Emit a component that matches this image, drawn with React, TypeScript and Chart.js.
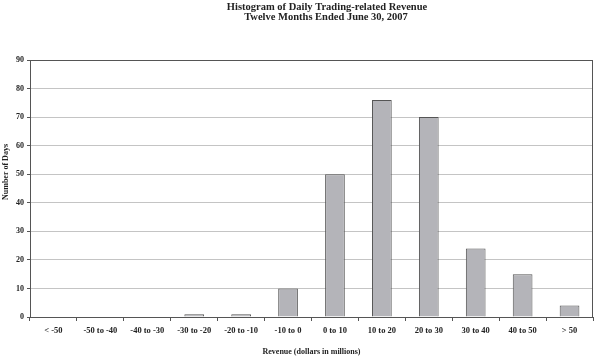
import React, { useEffect, useRef } from "react";
import { Chart, registerables } from "chart.js";

Chart.register(...registerables);

const categories = ["< -50", "-50 to -40", "-40 to -30", "-30 to -20", "-20 to -10", "-10 to 0", "0 to 10", "10 to 20", "20 to 30", "30 to 40", "40 to 50", "> 50"];
const days = [0, 0, 0, 1, 1, 10, 50, 76, 70, 24, 15, 4];
const titleLines = ["Histogram of Daily Trading-related Revenue", "Twelve Months Ended June 30, 2007"];
const yTitle = "Number of Days";
const xTitle = "Revenue (dollars in millions)";

const SERIF = "'Liberation Serif', 'DejaVu Serif', serif";

const decorPlugin = {
  id: "decor",
  afterDraw(chart: any) {
    const { ctx, chartArea } = chart;
    ctx.save();
    // plot border
    ctx.strokeStyle = "#555";
    ctx.lineWidth = 1;
    ctx.strokeRect(Math.round(chartArea.left) + 0.5, Math.round(chartArea.top) + 0.5, Math.round(chartArea.right - chartArea.left) - 1, Math.round(chartArea.bottom - chartArea.top));
    // title
    ctx.fillStyle = "#222";
    ctx.textAlign = "center";
    ctx.textBaseline = "alphabetic";
    ctx.font = `bold 10.5px ${SERIF}`;
    ctx.fillText(titleLines[0], 327, 9.5);
    ctx.fillText(titleLines[1], 326, 20);
    // y title
    ctx.font = `bold 8px ${SERIF}`;
    ctx.translate(6, 172);
    ctx.rotate(-Math.PI / 2);
    ctx.textBaseline = "middle";
    ctx.fillText(yTitle, 0, 0);
    ctx.restore();
  },
};

export default function App() {
  const ref = useRef<HTMLCanvasElement>(null);
  useEffect(() => {
    const chart = new Chart(ref.current!, {
      type: "bar",
      data: {
        labels: categories,
        datasets: [
          {
            data: days,
            backgroundColor: "#b4b4b9",
            borderColor: "#555",
            borderWidth: 1,
            barPercentage: 0.42,
            categoryPercentage: 1,
          },
        ],
      },
      options: {
        animation: false,
        responsive: false,
        maintainAspectRatio: false,
        layout: { padding: { left: 0, right: 1, top: 60, bottom: 0 } },
        plugins: {
          legend: { display: false },
          tooltip: { enabled: false },
          title: { display: false },
        },
        scales: {
          x: {
            grid: { display: true, offset: true, drawOnChartArea: false, tickLength: 4, color: "#555" },
            border: { color: "#555" },
            ticks: { color: "#222", font: { family: SERIF, size: 8.5, weight: "bold" }, maxRotation: 0, autoSkip: false, padding: 5 },
            title: { display: true, text: xTitle, color: "#222", font: { family: SERIF, size: 8, weight: "bold" }, padding: { top: 12, bottom: 0 } },
            afterFit: (s: any) => { s.height = 40; },
          },
          y: {
            min: 0,
            max: 90,
            ticks: { stepSize: 10, color: "#222", font: { family: SERIF, size: 8, weight: "bold" }, padding: 3 },
            grid: { color: (c: any) => (c.tick && c.tick.value === 90 ? "#555" : "#c4c4c4"), tickLength: 3, tickColor: "#555" },
            border: { color: "#555" },
            afterFit: (s: any) => { s.width = 30; },
          },
        },
      },
      plugins: [decorPlugin],
    });
    return () => chart.destroy();
  }, []);
  return (
    <div style={{ position: "fixed", left: 0, top: 0, width: 594, height: 357, background: "#fff" }}>
      <canvas ref={ref} width={594} height={357} style={{ width: 594, height: 357 }} />
    </div>
  );
}
